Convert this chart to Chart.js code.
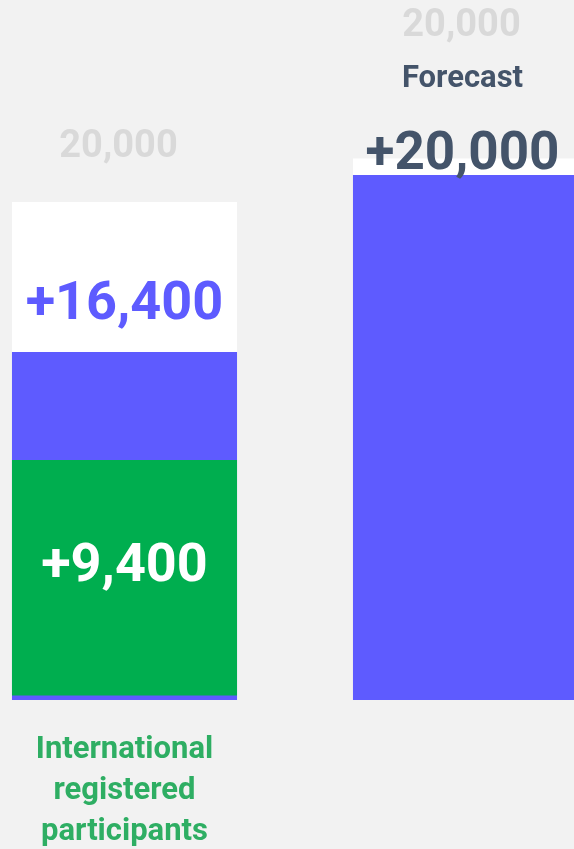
<!DOCTYPE html>
<html>
<head>
<meta charset="utf-8">
<script src="https://cdn.jsdelivr.net/npm/chart.js@4"></script>
<style>
  html, body { margin: 0; padding: 0; background: #f2f2f2; overflow: hidden; width: 574px; height: 849px; }
  #wrap { position: absolute; left: -46px; top: 0; width: 682px; height: 849px; }
</style>
</head>
<body>
<div id="wrap"><canvas id="c"></canvas></div>
<script>
// ---- data ----
const categories = ['International registered participants', 'Forecast'];
const categoryLines = [['International', 'registered', 'participants'], []];
const headerLabels = ['', 'Forecast'];
const targetLabels = ['20,000', '20,000'];
const trackValues = [18970, 20630];        // white background bars
const blueValues = [13260, 20000];         // blue bars
const greenValues = [[170, 9140], null];   // green bar (floating)
const valueLabels = ['+16,400', '+20,000'];
const greenLabels = ['+9,400', ''];
const yMax = 26667;

const BLUE = '#5e5bff', GREEN = '#00ae4f', SLATE = '#44546a', GHOST = '#d9d9d9', LABEL_GREEN = '#2eae63';

const textPlugin = {
  id: 'texts',
  afterDatasetsDraw(chart) {
    const ctx = chart.ctx;
    const greenMeta = chart.getDatasetMeta(0);
    const blueMeta = chart.getDatasetMeta(1);
    const trackMeta = chart.getDatasetMeta(2);
    ctx.save();
    ctx.textAlign = 'center';
    ctx.textBaseline = 'alphabetic';
    categories.forEach((cat, i) => {
      const blue = blueMeta.data[i];
      const track = trackMeta.data[i];
      const cx = blue.x;
      if (i === 0) {
        ctx.font = '700 38px Roboto';
        ctx.fillStyle = GHOST;
        ctx.fillText(targetLabels[i], cx - 6, track.y - 45);
        ctx.font = '700 54px Roboto';
        ctx.fillStyle = BLUE;
        ctx.fillText(valueLabels[i], cx, blue.y - 33);
        const g = greenMeta.data[i];
        ctx.fillStyle = '#ffffff';
        ctx.fillText(greenLabels[i], cx, g.y + 121);
        ctx.font = '700 31px Roboto';
        ctx.fillStyle = LABEL_GREEN;
        categoryLines[i].forEach((ln, k) => {
          ctx.fillText(ln, cx, chart.chartArea.bottom + 58 + k * 41);
        });
      } else {
        ctx.font = '700 38px Roboto';
        ctx.fillStyle = GHOST;
        ctx.fillText(targetLabels[i], cx - 4, track.y - 122.5);
        ctx.font = '700 31px Roboto';
        ctx.fillStyle = SLATE;
        ctx.fillText(headerLabels[i], cx - 3, track.y - 71);
        ctx.font = '700 53px Roboto';
        ctx.fillStyle = SLATE;
        ctx.fillText(valueLabels[i], cx - 3, blue.y - 6);
      }
    });
    ctx.restore();
  }
};

new Chart(document.getElementById('c'), {
  type: 'bar',
  data: {
    labels: categories,
    datasets: [
      { label: 'green', data: greenValues, backgroundColor: GREEN, grouped: false, borderWidth: 0 },
      { label: 'blue', data: blueValues, backgroundColor: BLUE, grouped: false, borderWidth: 0 },
      { label: 'track', data: trackValues, backgroundColor: '#ffffff', grouped: false, borderWidth: 0 }
    ]
  },
  options: {
    responsive: true,
    maintainAspectRatio: false,
    animation: false,
    layout: { padding: { top: 0, bottom: 149, left: 0, right: 0 } },
    datasets: { bar: { barPercentage: 1, categoryPercentage: 0.66 } },
    plugins: { legend: { display: false }, tooltip: { enabled: false } },
    scales: {
      x: { display: false },
      y: { display: false, min: 0, max: yMax }
    }
  },
  plugins: [textPlugin]
});
</script>
</body>
</html>
